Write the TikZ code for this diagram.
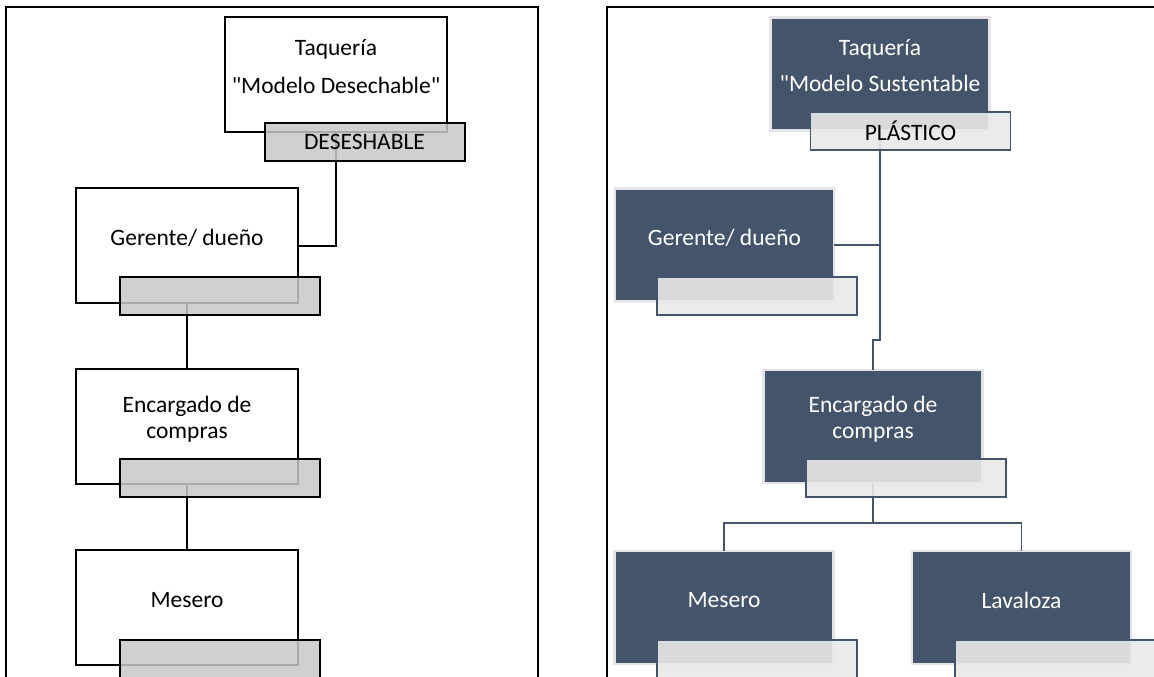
\documentclass[tikz,border=0pt]{standalone}
\usepackage{fontspec}
\setmainfont{Carlito}[Ligatures=TeXOff]
\definecolor{navy}{RGB}{68,84,106}
\definecolor{boxedge}{RGB}{228,228,230}
\definecolor{lightfill}{RGB}{233,233,233}
\definecolor{grayfill}{RGB}{200,200,200}
\begin{document}
\begin{tikzpicture}[x=1pt,y=-1pt,
  frame/.style={draw=black,line width=1.8pt},
  wbox/.style={draw=black,line width=2pt,fill=white,minimum width=222pt,minimum height=115pt,inner sep=0pt,outer sep=0pt},
  gbox/.style={draw=black,line width=2pt,fill=grayfill,fill opacity=0.85,text opacity=1,minimum width=200pt,minimum height=38pt,inner sep=0pt,outer sep=0pt},
  dbox/.style={draw=boxedge,line width=2.4pt,fill=navy,minimum width=219pt,minimum height=113pt,inner sep=0pt,outer sep=0pt},
  lbox/.style={draw=navy,line width=1.6pt,fill=lightfill,fill opacity=0.9,text opacity=1,minimum width=200pt,minimum height=38pt,inner sep=0pt,outer sep=0pt},
  lbl/.style={font=\fontsize{23.5}{26}\selectfont,align=center,inner sep=0pt},
  wlbl/.style={lbl,text=white},
  lconn/.style={draw=black,line width=2pt},
  rconn/.style={draw=navy,line width=1.7pt}]
\useasboundingbox (0,0) rectangle (1154,677);
\clip (0,0) rectangle (1154,677);
\fill[white] (0,0) rectangle (1154,677);
% frames
\draw[frame] (6,7) rectangle (538,700);
\draw[frame] (607,7) rectangle (1180,700);
% ---------- left panel ----------
\node[wbox] (T1) at (336,74.5) {};
\node[wbox] (G1) at (187,245.5) {};
\node[wbox] (E1) at (187,426.5) {};
\node[wbox] (M1) at (187,607.5) {};
\node[lbl] (T1t) at ([yshift=7.5pt]T1.center) {Taquería\\[12pt]"Modelo Desechable"};
\node[lbl] (G1t) at ([yshift=7.5pt]G1.center) {Gerente/ dueño};
\node[lbl] (E1t) at ([yshift=7.5pt]E1.center) {Encargado de\\compras};
\node[lbl] (M1t) at ([yshift=7.5pt]M1.center) {Mesero};
\draw[lconn] (T1.south) -- (T1.south |- G1.east) -- (G1.east);
\draw[lconn] (G1.south) -- (E1.north);
\draw[lconn] (E1.south) -- (M1.north);
\node[gbox] (D1) at (364.5,142) {};
\node[gbox] (G1g) at (220,296) {};
\node[gbox] (E1g) at (220,477.5) {};
\node[gbox] (M1g) at (220,659) {};
\node[lbl] (D1t) at (D1.center) {DESESHABLE};
% ---------- right panel ----------
\node[dbox] (T2) at (880,74) {};
\node[dbox] (G2) at (724.5,245) {};
\node[dbox] (E2) at (873,426.5) {};
\node[dbox] (M2) at (724,607.5) {};
\node[dbox] (L2) at (1021.5,607.5) {};
\node[wlbl] (T2t) at ([yshift=8pt]T2.center) {Taquería\\[10pt]"Modelo Sustentable};
\node[wlbl] (G2t) at ([yshift=7pt]G2.center) {Gerente/ dueño};
\node[wlbl] (E2t) at ([yshift=7.5pt]E2.center) {Encargado de\\compras};
\node[wlbl] (M2t) at ([yshift=7.5pt]M2.center) {Mesero};
\node[wlbl] (L2t) at ([yshift=7.5pt]L2.center) {Lavaloza};
\coordinate (j1) at (880,340);
\coordinate (j2) at (873,340);
\coordinate (bus) at (873,523);
\draw[rconn] (T2.south) -- (j1) -- (j2) -- (E2.north);
\draw[rconn] (G2.east) -- (G2.east -| T2.south);
\draw[rconn] (E2.south) -- (bus);
\draw[rconn] (M2.north) |- (bus) -| (L2.north);
\node[lbox] (P2) at (910.5,131) {};
\node[lbox] (G2g) at (757,296) {};
\node[lbox] (E2g) at (906,478) {};
\node[lbox] (M2g) at (757,659) {};
\node[lbox] (L2g) at (1055,659) {};
\node[lbl] (P2t) at (P2.center) {PLÁSTICO};
\end{tikzpicture}
\end{document}
